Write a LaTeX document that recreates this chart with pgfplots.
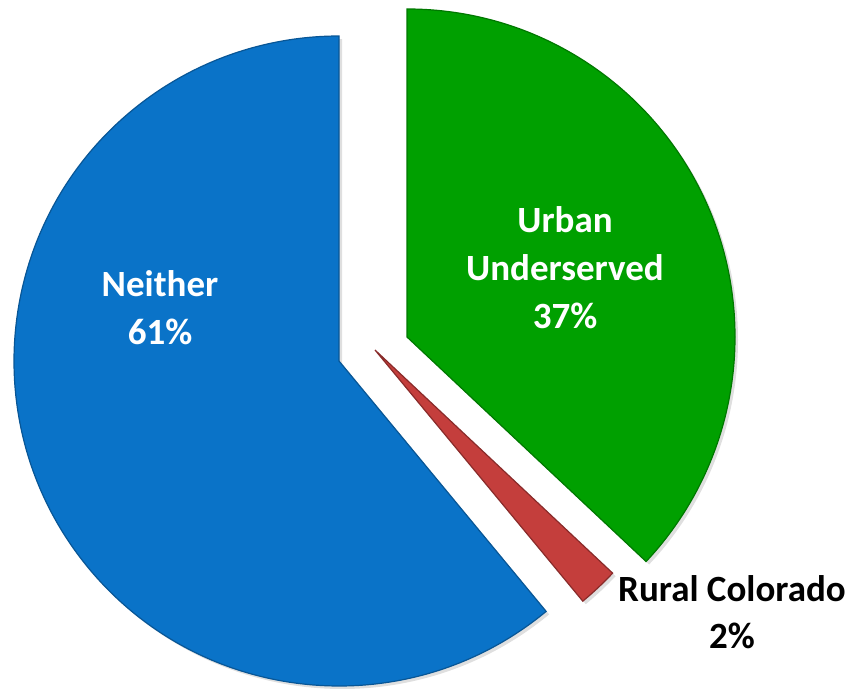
\documentclass[border=0pt]{standalone}
\usepackage{pgfplots}
\usepackage{pgfplotstable}
\pgfplotsset{compat=1.18}
\usepackage{fontspec}
\setmainfont{Carlito}
\usetikzlibrary{shadows}
\definecolor{cblue}{RGB}{10,115,200}
\definecolor{cgreen}{RGB}{0,160,0}
\definecolor{cred}{RGB}{196,62,60}
\pgfplotstableread{
label value
Urban 37
Rural 2
Neither 61
}\piedata
\begin{document}
\begin{tikzpicture}
\pgfplotstablegetelem{0}{value}\of\piedata \pgfmathtruncatemacro{\vA}{\pgfplotsretval}
\pgfplotstablegetelem{1}{value}\of\piedata \pgfmathtruncatemacro{\vB}{\pgfplotsretval}
\pgfplotstablegetelem{2}{value}\of\piedata \pgfmathtruncatemacro{\vC}{\pgfplotsretval}
\pgfmathsetmacro{\aA}{90}
\pgfmathsetmacro{\aB}{90-3.6*\vA}
\pgfmathsetmacro{\aC}{\aB-3.6*\vB}
\pgfmathsetmacro{\aD}{\aC-3.6*\vC}
\begin{axis}[
  width=855pt, height=689pt, scale only axis,
  xmin=0, xmax=855, ymin=0, ymax=689,
  hide axis, clip=false]
\coordinate (bl) at (rel axis cs:0,0);
\coordinate (tr) at (rel axis cs:1,1);
% Urban Underserved
\fill[cgreen, draw=cgreen!75!black, line width=1.2pt,
  drop shadow={shadow xshift=3pt, shadow yshift=-3pt, opacity=0.25}]
  (axis cs:407,352) -- ++(\aA:328pt) arc[start angle=\aA, end angle=\aB, radius=328pt] -- cycle;
% Rural Colorado
\fill[cred, draw=cred!70!black, line width=1.2pt,
  drop shadow={shadow xshift=3pt, shadow yshift=-3pt, opacity=0.25}]
  (axis cs:375,339) -- ++(\aB:326pt) arc[start angle=\aB, end angle=\aC, radius=326pt] -- cycle;
% Neither
\fill[cblue, draw=cblue!75!black, line width=1.2pt,
  drop shadow={shadow xshift=3pt, shadow yshift=-3pt, opacity=0.25}]
  (axis cs:339,328) -- ++(\aC:325pt) arc[start angle=\aC, end angle=\aD, radius=325pt] -- cycle;
\node[white, align=center, font=\bfseries\fontsize{37}{48}\selectfont]
  at (axis cs:160,381) {Neither\\\vC\%};
\node[white, align=center, font=\bfseries\fontsize{37}{48}\selectfont]
  at (axis cs:565,421) {Urban\\Underserved\\\vA\%};
\node[black, align=center, font=\bfseries\fontsize{37}{47}\selectfont]
  at (axis cs:732,77) {Rural Colorado\\\vB\%};
\end{axis}
\pgfresetboundingbox
\path (bl) rectangle (tr);
\end{tikzpicture}
\end{document}
